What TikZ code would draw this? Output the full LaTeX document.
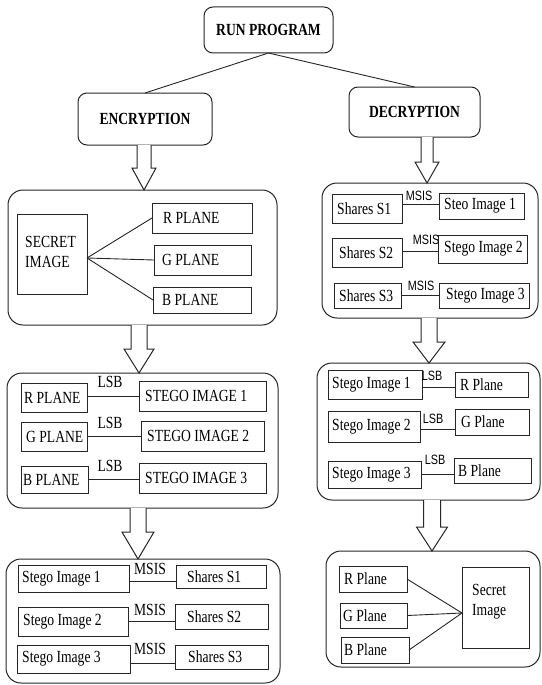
\documentclass[tikz,border=0pt]{standalone}
\usepackage{fontspec}
\setmainfont[FakeStretch=0.8]{Liberation Serif}
\newfontfamily\labsans[FakeStretch=0.8]{Liberation Sans}
\usetikzlibrary{calc}

% inner box: name, x, y (top left), width, height, text, text indent
\newcommand\ibx[7]{%
  \node[ibox,minimum width=#4pt,minimum height=#5pt,
        label={[tx,xshift=#7pt]west:{#6}}] (#1) at (#2,#3) {};}

% horizontal link from #1 to #2, shifted by #3, labelled #4 with style #5,
% label shifted by #6 (x) and #7 (y)
\newcommand\lnk[7]{%
  \path ([yshift=#3pt]#1.east) coordinate (#1out);
  \draw[wire] (#1out) -- node[#5,midway,xshift=#6pt,yshift=#7pt] {#4} (#1out -| #2.west);}

% hollow block arrow: name, x, source, target, shaft half width, head half width, head length
\newcommand\blkarrow[7]{%
  \path (#2,0) coordinate (#1x);
  \path (#1x |- #3.south) coordinate (#1a);
  \path (#1x |- #4.north) coordinate (#1b);
  \draw[blk] ($(#1a)+(-#5,0)$) -- ($(#1b)+(-#5,-#7)$) -- ($(#1b)+(-#6,-#7)$)
    -- (#1b) -- ($(#1b)+(#6,-#7)$) -- ($(#1b)+(#5,-#7)$) -- ($(#1a)+(#5,0)$);}

\begin{document}
\begin{tikzpicture}[x=1pt,y=-1pt,
  every node/.style={font=\fontsize{17pt}{20pt}\selectfont},
  frame/.style={draw=black!85,line width=1pt,rounded corners=15pt,anchor=north west,inner sep=0pt,outer sep=0pt},
  head/.style={draw=black!85,line width=1pt,rounded corners=9pt,anchor=north west,inner sep=0pt,outer sep=0pt,
    font=\fontsize{17pt}{20pt}\selectfont\bfseries},
  ibox/.style={draw=black!85,line width=1pt,anchor=north west,inner sep=0pt,outer sep=0pt},
  tx/.style={anchor=west,inner sep=0pt,align=left},
  wire/.style={draw=black!85,line width=0.9pt},
  serlab/.style={anchor=south,inner sep=0pt},
  sanlab/.style={anchor=south,inner sep=0pt,font=\fontsize{13.5pt}{16pt}\selectfont\labsans},
  blk/.style={draw=black!85,line width=1pt,fill=white}]

\useasboundingbox (0,0) rectangle (541,685);

% ---- top level ----
\node[head,minimum width=129pt,minimum height=46pt] (run) at (204,7) {RUN PROGRAM};
\node[head,minimum width=134pt,minimum height=52pt] (enc) at (78,93) {ENCRYPTION};
\node[head,minimum width=131pt,minimum height=50pt] (dec) at (349,87) {DECRYPTION};
\draw[wire] (run.south) -- (enc.north);
\draw[wire] (run.south) -- (dec.north);

% ---- encryption column ----
\node[frame,minimum width=269pt,minimum height=135pt] (ea) at (8,190) {};
\node[frame,minimum width=271pt,minimum height=135pt] (eb) at (7,373) {};
\node[frame,minimum width=274pt,minimum height=124pt] (ec) at (6,559) {};

% splitting the secret image
\node[ibox,minimum width=70pt,minimum height=80pt,
      label={[tx,xshift=8pt,yshift=2pt]west:{SECRET\\IMAGE}}] (secret) at (17,214) {};
\ibx{rP}{152}{203}{100}{30}{R PLANE}{11}
\ibx{gP}{154}{245}{97}{30}{G PLANE}{8}
\ibx{bP}{153}{287}{98}{26}{B PLANE}{9}
\coordinate (sj) at ($(secret.east)+(0,4)$);
\draw[wire] (sj) -- (rP.west);
\draw[wire] (sj) -- (gP.west);
\draw[wire] (sj) -- (bP.west);

% LSB embedding
\ibx{rtwo}{21}{383}{66}{29}{R PLANE}{3}
\ibx{stwoa}{139}{381}{127}{30}{STEGO IMAGE 1}{6}
\ibx{gtwo}{21}{422}{66}{29}{G PLANE}{5}
\ibx{stwob}{141}{421}{123}{30}{STEGO IMAGE 2}{6}
\ibx{btwo}{21}{466}{67}{27}{B PLANE}{2}
\ibx{stwoc}{139}{463}{127}{30}{STEGO IMAGE 3}{6}
\lnk{rtwo}{stwoa}{1.5}{LSB}{serlab}{-3}{7.5}
\lnk{gtwo}{stwob}{0}{LSB}{serlab}{-4}{7.5}
\lnk{btwo}{stwoc}{0}{LSB}{serlab}{-3.5}{7.5}

% MSIS shares
\ibx{sia}{18}{565}{111}{27}{Stego Image 1}{4}
\ibx{sha}{176}{565}{90}{23}{Shares S1}{11}
\ibx{sib}{18}{607}{110}{29}{Stego Image 2}{5}
\ibx{shb}{175}{604}{93}{25}{Shares S2}{12}
\ibx{sic}{17}{645}{113}{28}{Stego Image 3}{5}
\ibx{shc}{175}{645}{93}{24}{Shares S3}{13}
\lnk{sia}{sha}{-2.5}{MSIS}{serlab}{-2.5}{5.5}
\lnk{sib}{shb}{0}{MSIS}{serlab}{-1.5}{5.5}
\lnk{sic}{shc}{-4}{MSIS}{serlab}{-2.5}{7.5}

% ---- decryption column ----
\node[frame,minimum width=216pt,minimum height=135pt] (da) at (322,183) {};
\node[frame,minimum width=223pt,minimum height=137pt] (db) at (317,363) {};
\node[frame,minimum width=214pt,minimum height=116pt] (dc) at (326,551) {};

% shares back to stego images
\ibx{ssa}{332}{194}{70}{29}{Shares S1}{5}
\ibx{sta}{439}{193}{85}{26}{Steo Image 1}{5}
\ibx{ssb}{332}{238}{70}{29}{Shares S2}{7}
\ibx{stb}{438}{235}{89}{28}{Stego Image 2}{6}
\ibx{ssc}{334}{283}{67}{25}{Shares S3}{5}
\ibx{stc}{439}{283}{90}{25}{Stego Image 3}{7}
\lnk{ssa}{sta}{4.5}{MSIS}{sanlab}{-1.5}{3}
\lnk{ssb}{stb}{1.5}{MSIS}{sanlab}{6}{6}
\lnk{ssc}{stc}{0}{MSIS}{sanlab}{1}{4}

% LSB extraction
\ibx{rsa}{328}{370}{94}{29}{Stego Image 1}{4}
\ibx{rpa}{455}{372}{73}{25}{R Plane}{5}
\ibx{rsb}{328}{411}{92}{31}{Stego Image 2}{4}
\ibx{rpb}{455}{409}{74}{26}{G Plane}{6}
\ibx{rsc}{328}{461}{93}{27}{Stego Image 3}{4}
\ibx{rpc}{454}{458}{77}{25}{B Plane}{4}
\lnk{rsa}{rpa}{-2.5}{LSB}{sanlab}{-6.5}{6}
\lnk{rsb}{rpb}{-2.5}{LSB}{sanlab}{-4.5}{5}
\lnk{rsc}{rpc}{0}{LSB}{sanlab}{-2.5}{9}

% recombining the planes
\ibx{fr}{339}{566}{68}{26}{R Plane}{5}
\ibx{fg}{340}{603}{67}{25}{G Plane}{3}
\ibx{fb}{341}{637}{68}{26}{B Plane}{3}
\node[ibox,minimum width=67pt,minimum height=81pt,
      label={[tx,xshift=10pt,yshift=5.5pt]west:{Secret\\Image}}] (fs) at (462,567) {};
\coordinate (fj) at ($(fs.west)+(0,5.5)$);
\draw[wire] (fr.east) -- (fj);
\draw[wire] (fg.east) -- (fj);
\draw[wire] (fb.east) -- (fj);

% ---- flow arrows ----
\blkarrow{ea}{144}{enc}{ea}{7}{12}{22}
\blkarrow{eb}{139}{ea}{eb}{8}{15}{24}
\blkarrow{ec}{138}{eb}{ec}{8}{16}{27}
\blkarrow{da}{427}{dec}{da}{6}{12}{21}
\blkarrow{db}{429}{da}{db}{8}{16}{21}
\blkarrow{dc}{432}{db}{dc}{8.5}{15.5}{24}

\end{tikzpicture}
\end{document}
